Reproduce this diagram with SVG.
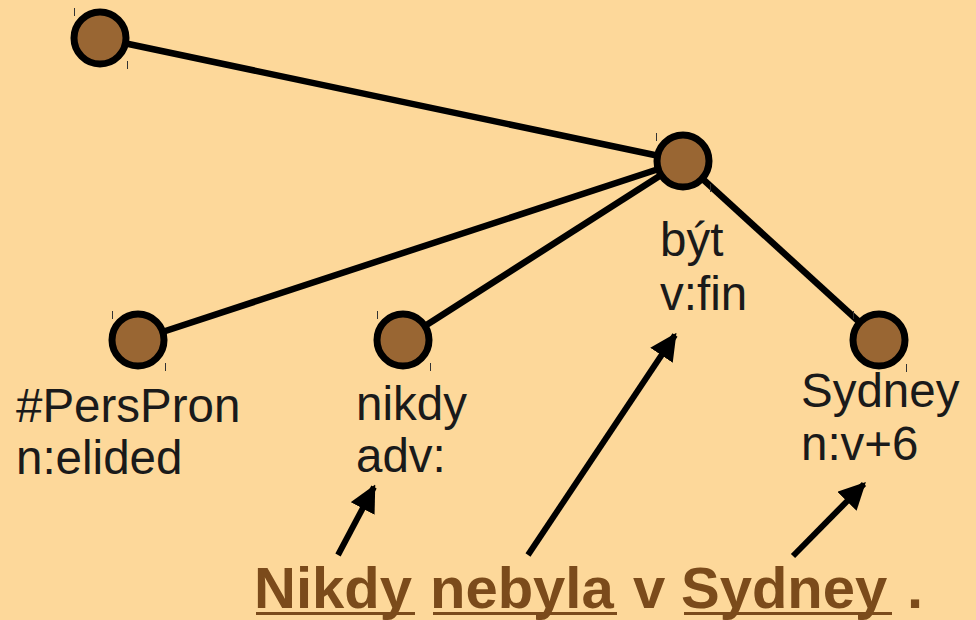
<svg xmlns="http://www.w3.org/2000/svg" width="976" height="620" viewBox="0 0 976 620">
<defs>
<style>
.bg{fill:#fdd89a}
.node{fill:#996633;stroke:#000;stroke-width:7}
.tick{stroke:#333;stroke-width:1}
.edge{stroke:#000;stroke-width:6.5;fill:none}
.lbl{font-family:"Liberation Sans",Arial,sans-serif;font-size:47.5px;fill:#1a1a1a}
.sent{font-family:"Liberation Sans",Arial,sans-serif;font-size:58px;font-weight:bold;fill:#7b4b1b}
.ul{stroke:#7b4b1b;stroke-width:3}
.arr{stroke:#000;stroke-width:6;fill:none}
</style>
<marker id="ah" viewBox="0 0 10 10" refX="9" refY="5" markerWidth="4.5" markerHeight="4.5" orient="auto" markerUnits="strokeWidth">
<path d="M0,0 L10,5 L0,10 Z" fill="#000"/>
</marker>
</defs>
<rect class="bg" x="0" y="0" width="976" height="620"/>
<g id="connectors">
<line class="edge" x1="100" y1="38" x2="683" y2="161"/>
<line class="edge" x1="683" y1="161" x2="138" y2="340"/>
<line class="edge" x1="683" y1="161" x2="403" y2="340"/>
<line class="edge" x1="683" y1="161" x2="879" y2="340"/>
<line class="arr" x1="338" y1="555" x2="374" y2="487" marker-end="url(#ah)"/>
<line class="arr" x1="528" y1="555" x2="675" y2="335" marker-end="url(#ah)"/>
<line class="arr" x1="793" y1="556" x2="864" y2="484" marker-end="url(#ah)"/>
</g>
<g id="node-root">
<circle class="node" cx="100" cy="38" r="26"/>
<line class="tick" x1="74.5" y1="8" x2="74.5" y2="16"/>
<line class="tick" x1="127.5" y1="61" x2="127.5" y2="69"/>
</g>
<g id="node-byt">
<circle class="node" cx="683" cy="161" r="26"/>
<line class="tick" x1="656.5" y1="133" x2="656.5" y2="141"/>
<line class="tick" x1="710.5" y1="184" x2="710.5" y2="192"/>
<text class="lbl" x="660" y="256">být</text>
<text class="lbl" x="660" y="310">v:fin</text>
</g>
<g id="node-perspron">
<circle class="node" cx="138" cy="340" r="26"/>
<line class="tick" x1="112.5" y1="311" x2="112.5" y2="319"/>
<line class="tick" x1="165.5" y1="363" x2="165.5" y2="371"/>
<text class="lbl" x="16" y="422">#PersPron</text>
<text class="lbl" x="16" y="474">n:elided</text>
</g>
<g id="node-nikdy">
<circle class="node" cx="403" cy="340" r="26"/>
<line class="tick" x1="377.5" y1="311" x2="377.5" y2="319"/>
<line class="tick" x1="430.5" y1="363" x2="430.5" y2="371"/>
<text class="lbl" x="356" y="420">nikdy</text>
<text class="lbl" x="356" y="472">adv:</text>
</g>
<g id="node-sydney">
<circle class="node" cx="879" cy="340" r="26"/>
<line class="tick" x1="853.5" y1="311" x2="853.5" y2="319"/>
<line class="tick" x1="906.5" y1="364" x2="906.5" y2="372"/>
<text class="lbl" x="801" y="407">Sydney</text>
<text class="lbl" x="801" y="460">n:v+6</text>
</g>
<g id="sentence">
<text class="sent" x="254" y="608">Nikdy</text>
<text class="sent" x="430" y="608">nebyla</text>
<text class="sent" x="633" y="608">v</text>
<text class="sent" x="681" y="608">Sydney</text>
<text class="sent" x="907" y="608">.</text>
<line class="ul" x1="256" y1="613.5" x2="415" y2="613.5"/>
<line class="ul" x1="433" y1="613.5" x2="617" y2="613.5"/>
<line class="ul" x1="684" y1="613.5" x2="892" y2="613.5"/>
</g>
</svg>
